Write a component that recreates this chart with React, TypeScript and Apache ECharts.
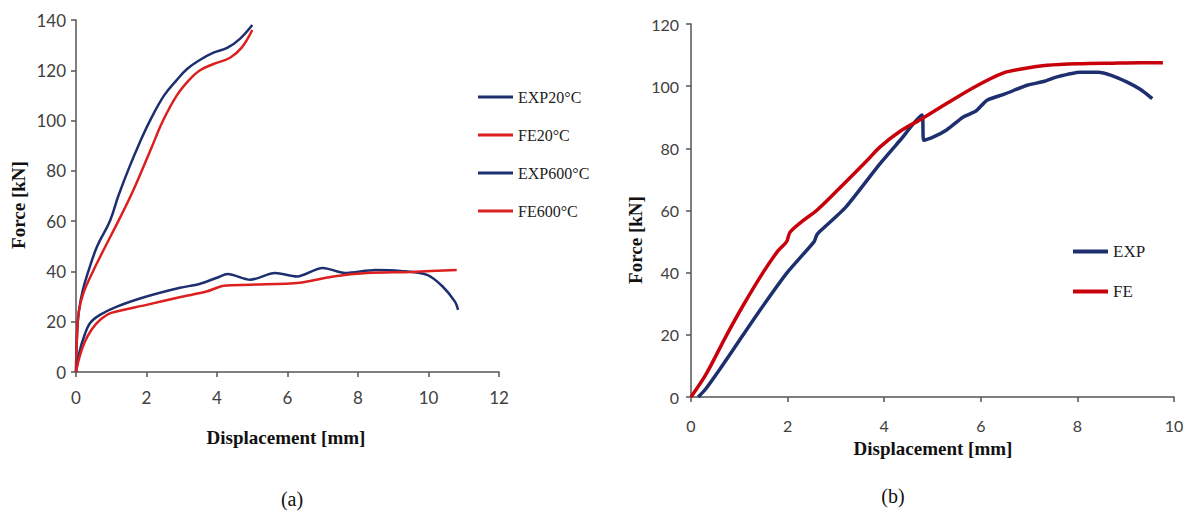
import React, { useEffect, useRef } from "react";
import * as echarts from "echarts";

// ---- Panel (a) data ----
const exp20X = [0, 0.03, 0.08, 0.2, 0.35, 0.6, 0.96, 1.2, 1.5, 1.8, 2.1, 2.5, 2.85, 3.15, 3.5, 3.9, 4.3, 4.65, 5.0];
const exp20Y = [0, 15, 24, 33, 40, 50, 60, 70, 81, 91, 100, 110, 116, 120.5, 124, 127, 129, 132.5, 138];
const fe20X = [0, 0.03, 0.08, 0.2, 0.48, 0.8, 1.2, 1.55, 1.85, 2.15, 2.47, 2.86, 3.2, 3.52, 3.9, 4.37, 4.7, 5.0];
const fe20Y = [0, 15, 24, 31, 40, 49, 60, 70, 79.5, 89.5, 100, 110, 116, 120, 122.5, 125, 129, 136];
const exp600X = [0, 0.1, 0.25, 0.4, 0.68, 1.16, 2.0, 2.95, 3.5, 4.0, 4.3, 4.94, 5.65, 6.27, 7.0, 7.63, 8.5, 9.2, 9.96, 10.4, 10.75, 10.84];
const exp600Y = [0, 8, 15, 19.5, 22.7, 26, 30, 33.5, 35, 37.5, 39, 36.7, 39.4, 38, 41.4, 39.4, 40.6, 40.2, 38.6, 34, 28, 24.7];
const fe600X = [0, 0.1, 0.25, 0.45, 0.68, 1.0, 2.0, 3.0, 3.7, 4.2, 4.94, 6.35, 7.3, 8.26, 9.5, 10.8];
const fe600Y = [0, 6, 12, 17, 20.7, 23.5, 26.7, 29.9, 32, 34.3, 34.7, 35.5, 38, 39.4, 39.8, 40.6];

// ---- Panel (b) data ----
const expX = [0.15, 0.3, 0.6, 1.08, 1.5, 1.99, 2.55, 2.6, 2.65, 3.2, 3.91, 4.33, 4.78, 4.82, 5.0, 5.3, 5.63, 5.9, 6.13, 6.5, 6.96, 7.3, 7.58, 8.05, 8.43, 8.7, 9.03, 9.3, 9.55];
const expY = [0, 2.5, 9, 20, 29.5, 40, 50, 52, 53, 61, 75, 82.6, 90.7, 82.6, 83.5, 86, 90, 92, 95.5, 97.5, 100.3, 101.5, 103, 104.5, 104.5, 103.5, 101.3, 99, 96];
const feX = [0, 0.3, 0.74, 1.1, 1.49, 1.8, 1.98, 2.05, 2.3, 2.6, 3.0, 3.64, 3.91, 4.33, 4.8, 5.3, 5.9, 6.46, 6.9, 7.37, 8.0, 8.74, 9.3, 9.77];
const feY = [0, 7, 20, 30, 40, 47, 50, 53, 56.5, 60, 66, 76, 80.4, 85.5, 89.7, 94.5, 100, 104.2, 105.7, 106.7, 107.2, 107.4, 107.5, 107.5];

const namesA = ["EXP20°C", "FE20°C", "EXP600°C", "FE600°C"];
const namesB = ["EXP", "FE"];

const BLUE = "#1d2f6f";
const RED = "#dc1f1f";
const RED_B = "#c8000c";

const zip = (xs: number[], ys: number[]) => xs.map((x, i) => [x, ys[i]]);

export default function App() {
  const ref = useRef<HTMLDivElement>(null);
  useEffect(() => {
    if (!ref.current) return;
    const chart = echarts.init(ref.current, undefined, { renderer: "svg" });
    const tickFont = { fontFamily: "Lato", color: "#404040" };
    const axisLine = { show: true, lineStyle: { color: "#555", width: 1.5 } };
    const axisTick = { show: true, length: 5, lineStyle: { color: "#555", width: 1.5 } };
    const mkX = (gi: number, max: number, fs: number, margin: number) => ({
      type: "value", gridIndex: gi, min: 0, max, interval: 2,
      axisLine, axisTick, splitLine: { show: false },
      axisLabel: { ...tickFont, fontSize: fs, margin },
    });
    const mkY = (gi: number, max: number, fs: number, margin: number) => ({
      type: "value", gridIndex: gi, min: 0, max, interval: 20,
      axisLine, axisTick, splitLine: { show: false },
      axisLabel: { ...tickFont, fontSize: fs, margin },
    });
    const line = (name: string, data: number[][], color: string, gi: number, w: number, sm: number) => ({
      type: "line", name, data, xAxisIndex: gi, yAxisIndex: gi,
      symbol: "none", smooth: sm, lineStyle: { color, width: w }, itemStyle: { color },
    });
    const titleFont = "bold 19px 'Liberation Serif'";
    chart.setOption({
      animation: false,
      grid: [
        { left: 76, top: 20, width: 423, height: 352 },
        { left: 691, top: 24, width: 483, height: 373 },
      ],
      xAxis: [mkX(0, 12, 17, 17), mkX(1, 10, 16, 20)],
      yAxis: [mkY(0, 140, 17, 10), mkY(1, 120, 16, 12)],
      legend: [
        {
          data: namesA, orient: "vertical", left: 473, top: 84,
          icon: "rect", itemWidth: 35, itemHeight: 3, itemGap: 22,
          textStyle: { fontFamily: "Liberation Serif", fontSize: 16, color: "#222", lineHeight: 16 },
        },
        {
          data: namesB, orient: "vertical", left: 1068, top: 238,
          icon: "rect", itemWidth: 35, itemHeight: 4, itemGap: 23,
          textStyle: { fontFamily: "Liberation Serif", fontSize: 17, color: "#222", lineHeight: 16 },
        },
      ],
      series: [
        line(namesA[0], zip(exp20X, exp20Y), BLUE, 0, 2.5, 0.4),
        line(namesA[1], zip(fe20X, fe20Y), RED, 0, 2.5, 0.4),
        line(namesA[2], zip(exp600X, exp600Y), BLUE, 0, 2.5, 0.3),
        line(namesA[3], zip(fe600X, fe600Y), RED, 0, 2.5, 0.3),
        line(namesB[0], zip(expX, expY), BLUE, 1, 3.5, 0.2),
        line(namesB[1], zip(feX, feY), RED_B, 1, 3.5, 0.3),
      ],
      graphic: [
        { type: "text", x: 18, y: 205, rotation: Math.PI / 2, style: { text: "Force [kN]", font: titleFont, fill: "#111", align: "center", verticalAlign: "middle" } },
        { type: "text", x: 286, y: 437, style: { text: "Displacement [mm]", font: titleFont, fill: "#111", align: "center", verticalAlign: "middle" } },
        { type: "text", x: 292, y: 499, style: { text: "(a)", font: "20px 'Liberation Serif'", fill: "#111", align: "center", verticalAlign: "middle" } },
        { type: "text", x: 635, y: 240, rotation: Math.PI / 2, style: { text: "Force [kN]", font: titleFont, fill: "#111", align: "center", verticalAlign: "middle" } },
        { type: "text", x: 933, y: 448, style: { text: "Displacement [mm]", font: titleFont, fill: "#111", align: "center", verticalAlign: "middle" } },
        { type: "text", x: 893, y: 496, style: { text: "(b)", font: "20px 'Liberation Serif'", fill: "#111", align: "center", verticalAlign: "middle" } },
      ],
    });
    return () => chart.dispose();
  }, []);
  return <div ref={ref} style={{ position: "absolute", left: 0, top: 0, width: 1189, height: 513 }} />;
}
